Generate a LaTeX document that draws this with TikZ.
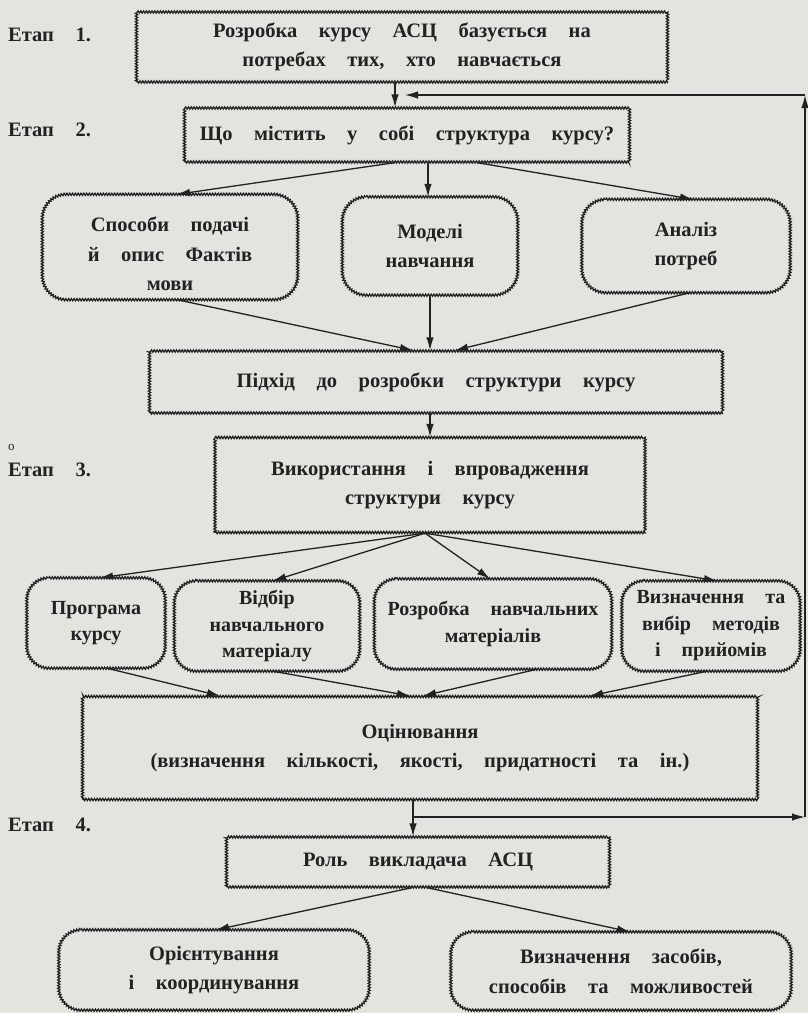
\documentclass[tikz,border=0pt]{standalone}
\usepackage{fontspec}
\setmainfont{Liberation Serif}[WordSpace=4.2]
\usetikzlibrary{arrows.meta,decorations.pathmorphing,calc}
\definecolor{paper}{RGB}{229,227,221}
\definecolor{ink}{RGB}{36,34,32}
\newcommand\rbord[2]{%
  \draw[wav] ([xshift=#2]#1.north west) -- ([xshift=-#2]#1.north east)
    arc[start angle=90, end angle=0, radius=#2]
    -- ([yshift=#2]#1.south east)
    arc[start angle=0, end angle=-90, radius=#2]
    -- ([xshift=#2]#1.south west)
    arc[start angle=270, end angle=180, radius=#2]
    -- ([yshift=-#2]#1.north west)
    arc[start angle=180, end angle=90, radius=#2] -- cycle;}
\begin{document}
\begin{tikzpicture}[x=1pt,y=-1pt,
  every node/.style={text=ink, font=\fontsize{20.5}{29.5}\selectfont\bfseries, align=center, inner sep=0pt},
  wav/.style={draw=ink, line width=1.25pt, decorate, decoration={zigzag, segment length=2.8pt, amplitude=1.1pt}},
  sq/.style={wav},
  rnd/.style={},
  arr/.style={draw=ink, line width=1.3pt, -{Latex[length=13pt,width=7.5pt]}},
  lbl/.style={anchor=west},
  rowtwo/.style={font=\fontsize{20}{26.5}\selectfont\bfseries}]
\fill[paper] (0,0) rectangle (808,1013);
\useasboundingbox (0,0) rectangle (808,1013);

% stage labels
\node[lbl] (e1) at (8,35) {Етап 1.};
\node[lbl] (e2) at (8,130) {Етап 2.};
\node[lbl, font=\fontsize{13}{15}\selectfont] (oo) at (8,447) {о};
\node[lbl] (e3) at (8,470) {Етап 3.};
\node[lbl] (e4) at (8,825) {Етап 4.};

% boxes
\node[sq, minimum width=531pt, minimum height=70pt] (b1) at (402,47) {Розробка курсу АСЦ базується на\\потребах тих, хто навчається};
\node[sq, minimum width=445pt, minimum height=54pt] (b2) at (407,135) {Що містить у собі структура курсу?};

\node[rnd, minimum width=255pt, minimum height=105pt] (ra) at (170,247) {};
\node (rat) at (170,254) {Способи подачі\\й опис Фактів\\мови};
\node[rnd, minimum width=175pt, minimum height=98pt] (rb) at (430,246) {Моделі\\навчання};
\node[rnd, minimum width=208pt, minimum height=93pt] (rc) at (686,246) {Аналіз\\потреб};
\rbord{ra}{24pt}
\rbord{rb}{24pt}
\rbord{rc}{24pt}

\node[sq, minimum width=573pt, minimum height=62pt] (p) at (436,382) {Підхід до розробки структури курсу};
\node[sq, minimum width=430pt, minimum height=95pt] (v) at (430,485) {Використання і впровадження\\структури курсу};

\node[rnd, rowtwo, minimum width=138pt, minimum height=90pt] (s1) at (96,623) {Програма\\курсу};
\node[rnd, rowtwo, minimum width=185pt, minimum height=90pt] (s2) at (267,626) {Відбір\\навчального\\матеріалу};
\node[rnd, rowtwo, minimum width=237pt, minimum height=90pt] (s3) at (493,624) {Розробка навчальних\\матеріалів};
\node[rnd, rowtwo, minimum width=178pt, minimum height=90pt] (s4) at (711,626) {Визначення та\\вибір методів\\і прийомів};
\rbord{s1}{22pt}
\rbord{s2}{22pt}
\rbord{s3}{22pt}
\rbord{s4}{22pt}

\node[sq, minimum width=675pt, minimum height=103pt] (o) at (420,748) {Оцінювання\\(визначення кількості, якості, придатності та ін.)};
\node[sq, minimum width=383pt, minimum height=50pt] (l) at (418,862) {Роль викладача АСЦ};

\node[rnd, minimum width=310pt, minimum height=80pt] (d1) at (214,970) {Орієнтування\\і координування};
\node[rnd, minimum width=340pt, minimum height=78pt] (d2) at (621,971) {Визначення засобів,\\способів та можливостей};
\rbord{d1}{22pt}
\rbord{d2}{22pt}

% feedback corner points
\coordinate (fb1) at (805,817);
\coordinate (fb2) at (805,95);

% connectors
\draw[arr] ([xshift=-7pt]b1.south) -- ([xshift=-7pt]b1.south |- b2.north);
\draw[arr] ([xshift=-12pt]b2.south) -- ([xshift=7pt]ra.north);
\draw[arr] ([xshift=-2pt]rb.north |- b2.south) -- ([xshift=-2pt]rb.north);
\draw[arr] ([xshift=70pt]b2.south) -- ([xshift=7pt]rc.north);

\draw[arr] ([xshift=7pt]ra.south) -- ([xshift=-23pt]p.north);
\draw[arr] (rb.south) -- (rb.south |- p.north);
\draw[arr] ([xshift=4pt]rc.south) -- ([xshift=19pt]p.north);

\draw[arr] (v.north |- p.south) -- (v.north);

\draw[arr] ([xshift=-5pt]v.south) -- ([xshift=4pt]s1.north);
\draw[arr] ([xshift=-5pt]v.south) -- ([xshift=6pt]s2.north);
\draw[arr] ([xshift=-5pt]v.south) -- ([xshift=-3pt]s3.north);
\draw[arr] ([xshift=-5pt]v.south) -- ([xshift=6pt]s4.north);

\draw[arr] ([xshift=11pt]s1.south) -- ([xshift=-200pt]o.north);
\draw[arr] ([xshift=6pt]s2.south) -- ([xshift=-10pt]o.north);
\draw[arr] ([xshift=44pt]s3.south) -- ([xshift=3pt]o.north);
\draw[arr] ([xshift=-4pt]s4.south) -- ([xshift=170pt]o.north);

\draw[arr] ([xshift=-7pt]o.south) -- ([xshift=-7pt]o.south |- l.north);
\draw[arr] ([xshift=-7pt]o.south |- fb1) -- (fb1);
\draw[arr] (fb1) -- (fb2);
\draw[arr] (fb2) -- ([xshift=3pt]b1.south |- fb2);

\draw[arr] ([xshift=-6pt]l.south) -- ([xshift=2pt]d1.north);
\draw[arr] ([xshift=9pt]l.south) -- ([xshift=9pt]d2.north);
\end{tikzpicture}
\end{document}
